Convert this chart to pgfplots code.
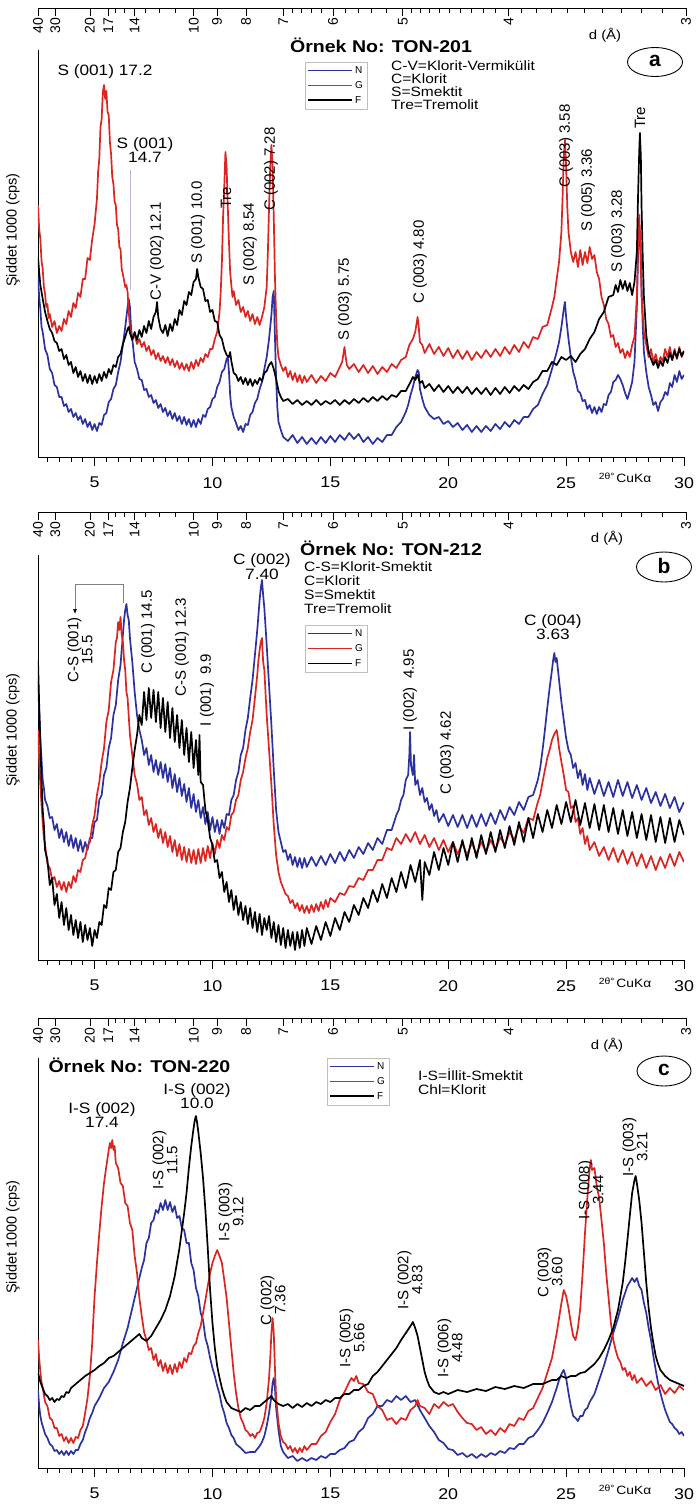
\documentclass[border=0pt]{standalone}
\usepackage{pgfplots}
\pgfplotsset{compat=1.18}
\usepackage{fontspec}
\setmainfont{Liberation Sans}
\newfontfamily\hs[FakeStretch=1.15]{Liberation Sans}
\usetikzlibrary{arrows.meta}
\definecolor{cN}{RGB}{43,50,160}
\definecolor{cG}{RGB}{218,37,33}
\definecolor{cF}{RGB}{0,0,0}
\newcommand{\fsz}[1]{\fontsize{#1}{#1}\selectfont}
\pgfplotsset{
  legend image code/.code={\draw[#1, line width=1.6pt] (0pt,0.5pt) -- (44pt,0.5pt);},
  dataax/.style={
    scale only axis, width=646pt,
    xmin=2.6, xmax=30, ymin=0,
    axis x line=bottom, axis y line=left, axis line style={-, line width=0.8pt},
    xtick={5,10,15,20,25,30}, xticklabels={5,10,15,20,25,30},
    minor xtick={3,3.5,...,29.5},
    ytick=\empty,
    tick align=outside,
    major tick length=9pt, minor tick length=5pt,
    tick style={line width=0.8pt, black},
    xticklabel style={font=\hs\fsz{15.5}, inner sep=1pt, yshift=-10pt},
    legend style={draw=gray!50, font=\fsz{10}, inner sep=2.5pt, row sep=2.5pt, anchor=north west, cells={anchor=west}},
    every axis plot/.append style={line width=1.7pt, line join=round},
  },
  topax/.style={
    scale only axis, width=648pt, height=2pt,
    xmin=2.207, xmax=29.76, ymin=0, ymax=1,
    axis x line=bottom, axis y line=none,
    axis line style={-, line width=0.8pt},
    xtick={2.207,2.943,4.415,5.194,6.308,8.835,9.82,11.05,12.64,14.75,17.72,22.21,29.76},
    xticklabels={40,30,20,17,14,10,9,8,7,6,5,4,3},
    minor xtick={5.519,5.887,6.794,7.361,8.031,13.01,13.40,13.83,14.27,15.26,15.81,16.40,17.04,18.09,18.47,18.87,19.28,19.71,20.17,20.64,21.13,21.66,22.78,23.39,24.03,24.71,25.43,26.19,27.00,27.86,28.77},
    tick align=outside, major tick length=8pt, minor tick length=5pt,
    tick style={line width=0.8pt, black},
    xticklabel style={rotate=90, anchor=east, font=\fsz{14}, inner sep=1.5pt},
  },
}
\begin{document}
\begin{tikzpicture}
\useasboundingbox (0pt,0pt) rectangle (696pt,-1504pt);

% ================= PANEL A =================
\begin{axis}[topax, at={(38pt,-8pt)}, anchor=south west]
\end{axis}
\begin{axis}[dataax, height=407pt, ymax=407, at={(38pt,-457pt)}, anchor=south west,
  legend style={at={(0.413,0.9705)}}]
\addplot[cN] coordinates {(2.6,180) (2.65,160) (2.7,148) (2.75,130) (2.8,125) (2.9,108) (3.0,102) (3.1,88) (3.2,84) (3.3,72) (3.4,70) (3.5,60) (3.6,60) (3.7,51) (3.8,53) (3.9,45) (4.0,48) (4.1,40) (4.2,44) (4.3,37) (4.4,41) (4.5,33) (4.6,38) (4.7,30) (4.8,35) (4.9,27) (5.0,33) (5.1,26) (5.2,34) (5.3,32) (5.4,42) (5.5,44) (5.6,55) (5.7,58) (5.8,68) (5.9,72) (6.0,85) (6.1,95) (6.2,112) (6.3,130) (6.4,150) (6.45,158) (6.5,150) (6.55,128) (6.6,118) (6.7,95) (6.8,88) (6.9,78) (7.0,77) (7.1,67) (7.2,68) (7.3,60) (7.4,62) (7.5,54) (7.6,57) (7.7,49) (7.8,53) (7.9,45) (8.0,49) (8.1,41) (8.2,46) (8.3,38) (8.4,44) (8.5,36) (8.6,41) (8.7,33) (8.8,40) (8.9,32) (9.0,38) (9.1,30) (9.2,37) (9.3,30) (9.4,38) (9.5,33) (9.6,42) (9.7,40) (9.8,48) (9.9,50) (10.0,58) (10.1,60) (10.2,70) (10.3,75) (10.4,85) (10.5,88) (10.6,98) (10.65,100) (10.7,85) (10.75,62) (10.8,50) (10.9,40) (11.0,34) (11.1,27) (11.2,31) (11.3,25) (11.4,33) (11.5,32) (11.6,42) (11.7,45) (11.8,54) (11.9,58) (12.0,68) (12.1,75) (12.2,88) (12.3,100) (12.4,118) (12.5,142) (12.55,160) (12.6,166) (12.65,120) (12.7,78) (12.75,50) (12.8,35) (12.9,27) (13.0,20) (13.2,16) (13.4,22) (13.6,14) (13.8,20) (14.0,13) (14.2,19) (14.4,13) (14.6,20) (14.8,14) (15.0,21) (15.2,15) (15.4,22) (15.6,17) (15.8,24) (16.0,18) (16.2,23) (16.4,15) (16.6,20) (16.8,13) (17.0,19) (17.2,15) (17.4,22) (17.6,22) (17.8,30) (18.0,35) (18.2,45) (18.3,52) (18.4,62) (18.5,70) (18.6,80) (18.7,87) (18.75,85) (18.8,68) (18.9,58) (19.0,50) (19.1,46) (19.2,42) (19.4,38) (19.6,40) (19.8,33) (20.0,36) (20.2,30) (20.4,34) (20.6,27) (20.8,32) (21.0,25) (21.2,31) (21.4,25) (21.6,31) (21.8,26) (22.0,33) (22.2,28) (22.4,35) (22.6,30) (22.8,37) (23.0,33) (23.2,40) (23.4,40) (23.6,48) (23.8,52) (24.0,63) (24.2,72) (24.4,88) (24.6,105) (24.7,115) (24.8,130) (24.9,148) (24.95,155) (25.0,140) (25.1,118) (25.2,100) (25.3,85) (25.4,77) (25.5,66) (25.6,64) (25.7,56) (25.8,57) (25.9,48) (26.0,52) (26.1,44) (26.2,50) (26.3,43) (26.4,50) (26.5,45) (26.6,53) (26.7,52) (26.8,62) (26.9,65) (27.0,75) (27.1,77) (27.2,82) (27.3,78) (27.4,72) (27.5,64) (27.6,58) (27.7,66) (27.8,75) (27.9,95) (28.0,150) (28.05,200) (28.1,232) (28.15,215) (28.2,170) (28.25,130) (28.3,105) (28.4,85) (28.5,70) (28.6,62) (28.7,52) (28.8,55) (28.9,46) (29.0,55) (29.1,58) (29.2,65) (29.3,62) (29.4,74) (29.5,70) (29.6,82) (29.7,75) (29.8,86) (29.9,78) (30.0,82)};
\addlegendentry{N}
\addplot[cG] coordinates {(2.6,252) (2.65,228) (2.7,218) (2.75,196) (2.8,188) (2.85,170) (2.9,163) (2.95,150) (3.0,153) (3.05,139) (3.1,143) (3.2,130) (3.3,136) (3.4,124) (3.5,131) (3.6,126) (3.7,138) (3.8,133) (3.9,146) (4.0,140) (4.1,154) (4.2,149) (4.3,164) (4.4,160) (4.5,178) (4.6,178) (4.7,199) (4.8,197) (4.9,218) (5.0,233) (5.05,246) (5.1,258) (5.15,285) (5.2,298) (5.25,330) (5.3,338) (5.35,365) (5.4,372) (5.45,358) (5.5,366) (5.55,345) (5.6,342) (5.65,315) (5.7,303) (5.75,280) (5.8,273) (5.85,255) (5.9,252) (5.95,232) (6.0,228) (6.05,210) (6.1,208) (6.15,188) (6.2,183) (6.3,170) (6.35,172) (6.4,165) (6.45,145) (6.5,130) (6.55,124) (6.6,119) (6.7,122) (6.8,113) (6.9,118) (7.0,110) (7.1,115) (7.2,106) (7.3,111) (7.4,102) (7.5,107) (7.6,98) (7.7,104) (7.8,96) (7.9,101) (8.0,94) (8.1,100) (8.2,92) (8.3,98) (8.4,90) (8.5,96) (8.6,88) (8.7,94) (8.8,87) (8.9,93) (9.0,86) (9.1,95) (9.2,88) (9.3,97) (9.4,91) (9.5,99) (9.6,95) (9.7,103) (9.8,100) (9.9,108) (10.0,108) (10.1,118) (10.2,125) (10.3,145) (10.35,165) (10.4,195) (10.45,240) (10.5,270) (10.55,305) (10.6,290) (10.65,250) (10.7,215) (10.75,185) (10.8,172) (10.85,160) (10.9,166) (11.0,152) (11.1,157) (11.2,145) (11.3,150) (11.4,140) (11.5,146) (11.6,136) (11.7,143) (11.8,133) (11.9,140) (12.0,132) (12.1,140) (12.2,150) (12.3,170) (12.35,205) (12.4,250) (12.45,290) (12.5,312) (12.55,290) (12.6,240) (12.65,180) (12.7,140) (12.75,112) (12.8,100) (12.9,92) (13.0,86) (13.1,90) (13.2,80) (13.3,86) (13.4,77) (13.5,84) (13.6,75) (13.7,82) (13.8,74) (13.9,81) (14.0,75) (14.2,82) (14.4,74) (14.6,81) (14.8,76) (15.0,84) (15.2,80) (15.4,90) (15.5,95) (15.6,110) (15.65,100) (15.7,92) (15.8,88) (16.0,93) (16.2,85) (16.4,92) (16.6,84) (16.8,91) (17.0,83) (17.2,90) (17.4,85) (17.6,93) (17.8,89) (18.0,97) (18.2,100) (18.35,112) (18.5,118) (18.6,125) (18.7,140) (18.75,130) (18.8,115) (18.9,112) (19.0,104) (19.2,113) (19.4,103) (19.6,110) (19.8,101) (20.0,109) (20.2,99) (20.4,107) (20.6,98) (20.8,106) (21.0,97) (21.2,105) (21.4,99) (21.6,107) (21.8,100) (22.0,108) (22.2,101) (22.4,110) (22.6,103) (22.8,112) (23.0,105) (23.2,115) (23.4,109) (23.6,120) (23.8,118) (24.0,130) (24.2,132) (24.4,150) (24.5,160) (24.6,178) (24.7,195) (24.8,225) (24.85,260) (24.9,300) (24.95,317) (25.0,290) (25.05,250) (25.1,225) (25.2,205) (25.3,195) (25.4,205) (25.5,190) (25.6,207) (25.7,192) (25.8,205) (25.9,194) (26.0,210) (26.1,198) (26.2,202) (26.3,185) (26.4,178) (26.5,160) (26.6,152) (26.7,138) (26.8,133) (26.9,120) (27.0,122) (27.1,110) (27.2,114) (27.3,104) (27.4,108) (27.5,99) (27.6,106) (27.7,100) (27.8,112) (27.9,120) (28.0,160) (28.05,210) (28.1,242) (28.15,215) (28.2,160) (28.3,125) (28.4,112) (28.5,100) (28.6,108) (28.7,95) (28.8,103) (28.9,92) (29.0,100) (29.1,96) (29.2,108) (29.3,100) (29.4,110) (29.5,97) (29.6,108) (29.7,98) (29.8,110) (29.9,100) (30.0,106)};
\addlegendentry{G}
\addplot[cF] coordinates {(2.6,200) (2.65,185) (2.7,172) (2.75,165) (2.8,158) (2.9,145) (3.0,136) (3.1,128) (3.2,124) (3.3,116) (3.4,114) (3.5,106) (3.6,108) (3.7,98) (3.8,102) (3.9,92) (4.0,95) (4.1,84) (4.2,90) (4.3,80) (4.4,86) (4.5,76) (4.6,83) (4.7,74) (4.8,82) (4.9,73) (5.0,81) (5.1,74) (5.2,83) (5.3,76) (5.4,85) (5.5,79) (5.6,88) (5.7,83) (5.8,92) (5.9,90) (6.0,100) (6.1,103) (6.2,113) (6.3,120) (6.4,128) (6.45,130) (6.5,124) (6.6,117) (6.7,125) (6.8,117) (6.9,127) (7.0,120) (7.1,131) (7.2,124) (7.3,136) (7.4,128) (7.5,140) (7.6,145) (7.65,155) (7.7,140) (7.8,128) (7.9,124) (8.0,132) (8.1,121) (8.2,133) (8.3,126) (8.4,138) (8.5,132) (8.6,147) (8.7,142) (8.8,156) (8.9,152) (9.0,165) (9.1,162) (9.2,175) (9.3,178) (9.35,188) (9.4,180) (9.5,170) (9.6,168) (9.7,156) (9.8,157) (9.9,145) (10.0,147) (10.1,136) (10.2,135) (10.3,122) (10.4,118) (10.5,108) (10.6,102) (10.7,100) (10.75,105) (10.8,96) (10.9,84) (11.0,82) (11.1,76) (11.2,80) (11.3,73) (11.4,79) (11.5,72) (11.6,78) (11.7,71) (11.8,77) (11.9,73) (12.0,79) (12.1,76) (12.2,84) (12.3,86) (12.4,92) (12.5,95) (12.6,88) (12.7,78) (12.8,66) (12.9,60) (13.0,56) (13.2,58) (13.4,53) (13.6,57) (13.8,52) (14.0,56) (14.2,52) (14.4,57) (14.6,52) (14.8,56) (15.0,53) (15.2,57) (15.4,52) (15.6,57) (15.8,53) (16.0,58) (16.2,54) (16.4,59) (16.6,55) (16.8,60) (17.0,56) (17.2,61) (17.4,57) (17.6,62) (17.8,60) (18.0,66) (18.2,66) (18.4,75) (18.5,80) (18.6,77) (18.7,82) (18.8,74) (18.9,76) (19.0,69) (19.2,73) (19.4,66) (19.6,72) (19.8,65) (20.0,71) (20.2,64) (20.4,70) (20.6,64) (20.8,70) (21.0,63) (21.2,69) (21.4,63) (21.6,69) (21.8,62) (22.0,69) (22.2,63) (22.4,70) (22.6,64) (22.8,71) (23.0,66) (23.2,72) (23.4,68) (23.6,75) (23.8,78) (24.0,86) (24.2,86) (24.4,95) (24.6,92) (24.8,100) (25.0,97) (25.2,101) (25.4,95) (25.6,103) (25.8,108) (26.0,118) (26.2,125) (26.4,138) (26.6,145) (26.8,160) (27.0,162) (27.1,172) (27.2,165) (27.3,177) (27.4,168) (27.5,176) (27.6,166) (27.7,174) (27.8,162) (27.9,175) (28.0,205) (28.05,260) (28.1,305) (28.13,324) (28.17,300) (28.2,250) (28.25,200) (28.3,160) (28.4,122) (28.5,105) (28.6,98) (28.7,92) (28.8,97) (28.9,89) (29.0,96) (29.1,91) (29.2,100) (29.3,94) (29.4,104) (29.5,97) (29.6,106) (29.7,99) (29.8,108) (29.9,101) (30.0,106)};
\addlegendentry{F}
\end{axis}

% ================= PANEL B =================
\begin{axis}[topax, at={(38pt,-512pt)}, anchor=south west]
\end{axis}
\begin{axis}[dataax, height=405pt, ymax=405, at={(38pt,-960pt)}, anchor=south west,
  legend style={at={(0.413,0.827)}}]
\addplot[cN] coordinates {(2.6,280) (2.65,250) (2.7,222) (2.75,200) (2.8,180) (2.85,172) (2.9,160) (3.0,154) (3.1,142) (3.2,143) (3.3,130) (3.4,136) (3.5,122) (3.6,131) (3.7,118) (3.8,128) (3.9,114) (4.0,125) (4.1,112) (4.2,122) (4.3,109) (4.4,120) (4.5,108) (4.6,118) (4.7,110) (4.8,122) (4.9,122) (5.0,138) (5.1,140) (5.2,160) (5.3,165) (5.4,185) (5.5,192) (5.6,212) (5.7,222) (5.8,245) (5.9,255) (6.0,280) (6.1,295) (6.2,325) (6.25,340) (6.3,350) (6.35,356) (6.4,345) (6.45,340) (6.5,322) (6.6,298) (6.7,268) (6.8,245) (6.9,230) (7.0,220) (7.1,205) (7.2,212) (7.3,195) (7.4,205) (7.5,188) (7.6,200) (7.7,185) (7.8,198) (7.9,182) (8.0,196) (8.1,178) (8.2,192) (8.3,172) (8.4,186) (8.5,168) (8.6,182) (8.7,164) (8.8,176) (8.9,158) (9.0,172) (9.1,152) (9.2,166) (9.3,148) (9.4,160) (9.5,142) (9.6,153) (9.7,136) (9.8,148) (9.9,130) (10.0,143) (10.1,128) (10.2,140) (10.3,126) (10.4,140) (10.5,132) (10.6,146) (10.7,145) (10.8,160) (10.9,165) (11.0,180) (11.1,188) (11.2,205) (11.3,212) (11.4,230) (11.5,242) (11.6,262) (11.7,280) (11.8,305) (11.9,330) (11.95,345) (12.0,360) (12.05,372) (12.1,380) (12.15,365) (12.2,352) (12.3,315) (12.4,275) (12.5,235) (12.6,190) (12.7,150) (12.8,128) (12.9,118) (13.0,108) (13.1,110) (13.2,100) (13.3,106) (13.4,95) (13.5,103) (13.6,93) (13.7,102) (13.8,92) (13.9,102) (14.0,93) (14.2,103) (14.4,94) (14.6,104) (14.8,95) (15.0,106) (15.2,97) (15.4,108) (15.6,99) (15.8,110) (16.0,102) (16.2,113) (16.4,106) (16.6,117) (16.8,110) (17.0,122) (17.2,116) (17.4,130) (17.6,130) (17.8,145) (17.9,150) (18.0,160) (18.1,165) (18.2,180) (18.3,185) (18.35,205) (18.38,228) (18.42,195) (18.5,185) (18.55,205) (18.6,175) (18.7,180) (18.8,165) (18.9,172) (19.0,158) (19.1,162) (19.2,150) (19.3,156) (19.4,144) (19.5,150) (19.6,138) (19.8,146) (20.0,134) (20.2,145) (20.4,133) (20.6,145) (20.8,132) (21.0,145) (21.2,133) (21.4,146) (21.6,134) (21.8,147) (22.0,136) (22.2,150) (22.4,140) (22.6,153) (22.8,145) (23.0,158) (23.2,150) (23.4,163) (23.6,165) (23.8,180) (23.9,192) (24.0,210) (24.1,230) (24.2,252) (24.3,272) (24.4,290) (24.45,300) (24.5,307) (24.55,298) (24.6,302) (24.7,280) (24.8,258) (24.9,240) (25.0,222) (25.1,210) (25.2,205) (25.3,192) (25.4,197) (25.5,182) (25.6,190) (25.7,175) (25.8,186) (25.9,170) (26.0,182) (26.2,166) (26.4,180) (26.6,164) (26.8,178) (27.0,163) (27.2,180) (27.4,164) (27.6,178) (27.8,162) (28.0,175) (28.2,160) (28.4,172) (28.6,157) (28.8,168) (29.0,154) (29.2,166) (29.4,152) (29.6,163) (29.8,148) (30.0,158)};
\addlegendentry{N}
\addplot[cG] coordinates {(2.6,230) (2.65,200) (2.7,175) (2.75,155) (2.8,138) (2.85,122) (2.9,115) (3.0,96) (3.1,92) (3.2,80) (3.3,83) (3.4,73) (3.5,79) (3.6,70) (3.7,78) (3.8,68) (3.9,78) (4.0,72) (4.1,84) (4.2,78) (4.3,90) (4.4,88) (4.5,100) (4.6,102) (4.7,114) (4.8,118) (4.9,135) (5.0,145) (5.1,165) (5.2,178) (5.3,198) (5.4,212) (5.5,238) (5.6,250) (5.7,278) (5.8,290) (5.9,318) (5.95,322) (6.0,338) (6.05,330) (6.1,343) (6.15,325) (6.2,318) (6.25,300) (6.3,290) (6.35,268) (6.4,262) (6.5,225) (6.6,205) (6.7,185) (6.8,176) (6.9,160) (7.0,163) (7.1,145) (7.2,150) (7.3,135) (7.4,142) (7.5,128) (7.6,136) (7.7,122) (7.8,131) (7.9,117) (8.0,128) (8.1,113) (8.2,124) (8.3,108) (8.4,120) (8.5,104) (8.6,116) (8.7,100) (8.8,113) (8.9,98) (9.0,111) (9.1,97) (9.2,110) (9.3,96) (9.4,111) (9.5,97) (9.6,112) (9.7,99) (9.8,114) (9.9,102) (10.0,117) (10.1,106) (10.2,120) (10.3,112) (10.4,125) (10.5,120) (10.6,133) (10.7,130) (10.8,145) (10.9,148) (11.0,160) (11.1,165) (11.2,180) (11.3,188) (11.4,202) (11.5,212) (11.6,228) (11.7,240) (11.8,262) (11.9,285) (11.95,300) (12.0,310) (12.05,318) (12.1,322) (12.15,298) (12.2,290) (12.3,245) (12.4,210) (12.5,175) (12.6,135) (12.7,105) (12.8,88) (12.9,78) (13.0,72) (13.1,66) (13.2,64) (13.3,57) (13.4,60) (13.5,52) (13.6,57) (13.7,49) (13.8,55) (13.9,47) (14.0,54) (14.1,47) (14.2,55) (14.3,48) (14.4,56) (14.5,49) (14.6,58) (14.7,51) (14.8,60) (14.9,53) (15.0,62) (15.2,58) (15.4,67) (15.6,65) (15.8,74) (16.0,73) (16.2,82) (16.4,80) (16.6,90) (16.8,90) (17.0,100) (17.2,100) (17.4,112) (17.6,110) (17.8,122) (18.0,116) (18.2,126) (18.4,118) (18.6,128) (18.8,116) (19.0,125) (19.2,113) (19.4,122) (19.6,110) (19.8,120) (20.0,108) (20.2,118) (20.4,106) (20.6,117) (20.8,105) (21.0,117) (21.2,106) (21.4,118) (21.6,108) (21.8,120) (22.0,110) (22.2,123) (22.4,115) (22.6,128) (22.8,120) (23.0,134) (23.2,127) (23.4,142) (23.6,140) (23.8,158) (23.9,165) (24.0,178) (24.1,190) (24.2,202) (24.3,210) (24.4,220) (24.5,226) (24.6,230) (24.65,222) (24.7,212) (24.8,198) (24.9,185) (25.0,170) (25.1,168) (25.2,152) (25.3,154) (25.4,138) (25.5,142) (25.6,126) (25.7,132) (25.8,116) (25.9,124) (26.0,110) (26.2,118) (26.4,104) (26.6,113) (26.8,100) (27.0,112) (27.2,98) (27.4,110) (27.6,96) (27.8,108) (28.0,94) (28.2,106) (28.4,92) (28.6,104) (28.8,90) (29.0,103) (29.2,92) (29.4,106) (29.6,94) (29.8,108) (30.0,98)};
\addlegendentry{G}
\addplot[cF] coordinates {(2.6,300) (2.65,255) (2.7,215) (2.75,180) (2.8,150) (2.85,135) (2.9,110) (3.0,100) (3.1,75) (3.2,82) (3.3,55) (3.4,66) (3.5,42) (3.6,58) (3.7,35) (3.8,52) (3.9,30) (4.0,45) (4.1,25) (4.2,40) (4.3,22) (4.4,38) (4.5,18) (4.6,35) (4.7,20) (4.8,32) (4.9,14) (5.0,30) (5.1,22) (5.2,38) (5.3,35) (5.4,55) (5.5,52) (5.6,72) (5.7,70) (5.8,88) (5.9,90) (6.0,108) (6.1,112) (6.2,128) (6.3,138) (6.4,158) (6.5,172) (6.6,192) (6.7,210) (6.8,225) (6.9,245) (7.0,235) (7.1,268) (7.2,240) (7.3,272) (7.4,242) (7.5,270) (7.6,238) (7.7,268) (7.8,232) (7.9,262) (8.0,228) (8.1,258) (8.2,222) (8.3,252) (8.4,218) (8.5,245) (8.6,212) (8.7,240) (8.8,205) (8.9,232) (9.0,198) (9.1,228) (9.2,192) (9.3,220) (9.4,185) (9.45,225) (9.5,178) (9.6,175) (9.7,150) (9.8,140) (9.9,122) (10.0,115) (10.1,98) (10.2,100) (10.3,82) (10.4,88) (10.5,68) (10.6,78) (10.7,58) (10.8,70) (10.9,50) (11.0,64) (11.1,45) (11.2,58) (11.3,40) (11.4,54) (11.5,36) (11.6,52) (11.7,32) (11.8,48) (11.9,28) (12.0,46) (12.1,25) (12.2,42) (12.3,30) (12.4,44) (12.5,22) (12.6,38) (12.7,18) (12.8,35) (12.9,15) (13.0,32) (13.1,12) (13.2,30) (13.3,14) (13.4,28) (13.5,10) (13.6,28) (13.7,12) (13.8,30) (13.9,14) (14.0,32) (14.2,16) (14.4,34) (14.6,20) (14.8,38) (15.0,24) (15.2,42) (15.4,30) (15.6,48) (15.8,38) (16.0,55) (16.2,45) (16.4,62) (16.6,52) (16.8,70) (17.0,58) (17.2,76) (17.4,62) (17.6,82) (17.8,68) (18.0,88) (18.2,72) (18.4,95) (18.6,78) (18.8,100) (18.9,60) (19.0,98) (19.2,85) (19.4,108) (19.6,90) (19.8,112) (20.0,95) (20.2,118) (20.4,98) (20.6,120) (20.8,100) (21.0,122) (21.2,102) (21.4,125) (21.6,106) (21.8,128) (22.0,108) (22.2,130) (22.4,112) (22.6,134) (22.8,115) (23.0,138) (23.2,118) (23.4,142) (23.6,122) (23.8,146) (24.0,128) (24.2,150) (24.4,132) (24.6,155) (24.8,136) (25.0,158) (25.2,138) (25.4,160) (25.6,135) (25.8,157) (26.0,132) (26.2,156) (26.4,130) (26.6,155) (26.8,128) (27.0,152) (27.2,126) (27.4,150) (27.6,124) (27.8,148) (28.0,122) (28.2,146) (28.4,120) (28.6,145) (28.8,118) (29.0,143) (29.2,117) (29.4,142) (29.6,118) (29.8,140) (30.0,125)};
\addlegendentry{F}
\end{axis}

% ================= PANEL C =================
\begin{axis}[topax, at={(38pt,-1018pt)}, anchor=south west]
\end{axis}
\begin{axis}[dataax, height=410pt, ymax=410, at={(38pt,-1468pt)}, anchor=south west,
  legend style={at={(0.447,1.0)}}]
\addplot[cN] coordinates {(2.6,78) (2.65,62) (2.7,52) (2.75,46) (2.8,42) (2.9,34) (3.0,30) (3.1,24) (3.2,22) (3.3,17) (3.4,18) (3.5,14) (3.6,17) (3.7,13) (3.8,17) (3.9,13) (4.0,17) (4.1,14) (4.2,18) (4.3,18) (4.4,24) (4.5,28) (4.6,36) (4.7,42) (4.8,50) (4.9,55) (5.0,62) (5.2,70) (5.4,80) (5.6,86) (5.8,96) (6.0,108) (6.2,125) (6.4,140) (6.6,160) (6.8,180) (7.0,200) (7.1,208) (7.2,225) (7.3,230) (7.4,245) (7.5,248) (7.6,258) (7.7,255) (7.8,265) (7.9,258) (8.0,268) (8.1,258) (8.2,266) (8.3,256) (8.4,262) (8.5,250) (8.6,252) (8.7,240) (8.8,238) (8.9,225) (9.0,225) (9.1,205) (9.2,198) (9.3,180) (9.4,172) (9.5,155) (9.6,148) (9.7,130) (9.8,122) (9.9,110) (10.0,100) (10.1,92) (10.2,82) (10.3,74) (10.4,62) (10.5,55) (10.6,45) (10.7,40) (10.8,33) (10.9,30) (11.0,24) (11.2,20) (11.4,15) (11.6,16) (11.8,16) (12.0,22) (12.1,26) (12.2,32) (12.3,42) (12.4,55) (12.5,72) (12.55,85) (12.6,90) (12.65,80) (12.7,60) (12.8,38) (12.9,22) (13.0,16) (13.2,10) (13.4,12) (13.6,7) (13.8,10) (14.0,7) (14.2,10) (14.4,8) (14.6,12) (14.8,10) (15.0,14) (15.2,14) (15.4,18) (15.6,20) (15.8,26) (16.0,28) (16.2,36) (16.4,40) (16.6,50) (16.8,54) (17.0,62) (17.2,62) (17.4,68) (17.6,66) (17.8,72) (18.0,68) (18.2,72) (18.4,66) (18.6,68) (18.8,58) (19.0,50) (19.2,42) (19.4,36) (19.6,28) (19.8,25) (20.0,19) (20.2,18) (20.4,13) (20.6,15) (20.8,11) (21.0,14) (21.2,10) (21.4,14) (21.6,11) (21.8,15) (22.0,13) (22.2,17) (22.4,15) (22.6,20) (22.8,19) (23.0,24) (23.2,24) (23.4,30) (23.6,32) (23.8,38) (24.0,45) (24.2,55) (24.4,66) (24.6,80) (24.7,88) (24.8,94) (24.9,98) (25.0,90) (25.1,75) (25.2,62) (25.3,52) (25.4,50) (25.5,47) (25.6,52) (25.7,52) (25.8,58) (25.9,60) (26.0,66) (26.2,74) (26.4,88) (26.6,102) (26.8,118) (27.0,135) (27.2,150) (27.4,168) (27.5,175) (27.6,182) (27.7,186) (27.8,190) (27.9,186) (28.0,190) (28.1,182) (28.2,178) (28.3,165) (28.4,155) (28.5,140) (28.6,128) (28.7,112) (28.8,98) (28.9,85) (29.0,75) (29.1,66) (29.2,58) (29.3,52) (29.4,46) (29.5,44) (29.6,40) (29.7,38) (29.8,34) (29.9,36) (30.0,32)};
\addlegendentry{N}
\addplot[cG] coordinates {(2.6,128) (2.65,110) (2.7,96) (2.75,86) (2.8,80) (2.9,66) (3.0,62) (3.1,50) (3.2,48) (3.3,40) (3.4,40) (3.5,32) (3.6,34) (3.7,27) (3.8,31) (3.9,25) (4.0,30) (4.1,25) (4.2,31) (4.3,30) (4.4,38) (4.5,42) (4.6,55) (4.7,70) (4.8,92) (4.9,125) (4.95,150) (5.0,172) (5.1,205) (5.2,235) (5.3,262) (5.4,285) (5.5,302) (5.6,318) (5.65,325) (5.7,320) (5.75,328) (5.8,318) (5.85,322) (5.9,305) (6.0,300) (6.1,285) (6.2,282) (6.3,265) (6.4,262) (6.5,245) (6.6,238) (6.7,212) (6.8,195) (6.9,170) (7.0,152) (7.1,136) (7.2,128) (7.3,118) (7.4,120) (7.5,108) (7.6,114) (7.7,102) (7.8,108) (7.9,97) (8.0,105) (8.1,95) (8.2,103) (8.3,94) (8.4,104) (8.5,96) (8.6,106) (8.7,100) (8.8,110) (8.9,106) (9.0,115) (9.1,114) (9.2,122) (9.3,125) (9.4,135) (9.5,142) (9.6,155) (9.7,168) (9.8,182) (9.9,195) (10.0,205) (10.1,212) (10.2,218) (10.3,212) (10.4,205) (10.5,188) (10.6,170) (10.7,145) (10.8,120) (10.9,95) (11.0,75) (11.1,60) (11.2,50) (11.3,45) (11.4,38) (11.5,36) (11.6,32) (11.7,34) (11.8,30) (11.9,35) (12.0,36) (12.1,42) (12.2,50) (12.3,65) (12.4,90) (12.45,110) (12.5,135) (12.55,150) (12.6,135) (12.65,100) (12.7,70) (12.8,45) (12.9,32) (13.0,26) (13.1,24) (13.2,19) (13.3,22) (13.4,16) (13.5,20) (13.6,15) (13.7,20) (13.8,16) (13.9,22) (14.0,18) (14.2,24) (14.4,24) (14.6,32) (14.8,36) (15.0,46) (15.2,54) (15.4,68) (15.6,76) (15.8,86) (15.9,90) (16.0,87) (16.1,92) (16.2,85) (16.4,84) (16.6,76) (16.8,74) (17.0,62) (17.2,58) (17.4,48) (17.6,50) (17.8,44) (18.0,50) (18.2,48) (18.4,58) (18.6,62) (18.7,68) (18.8,62) (19.0,60) (19.2,54) (19.4,64) (19.6,60) (19.8,66) (20.0,62) (20.2,64) (20.4,56) (20.6,50) (20.8,45) (21.0,44) (21.2,38) (21.4,41) (21.6,34) (21.8,38) (22.0,33) (22.2,40) (22.4,36) (22.6,44) (22.8,42) (23.0,50) (23.2,48) (23.4,57) (23.6,60) (23.8,70) (24.0,80) (24.2,95) (24.4,110) (24.6,135) (24.7,150) (24.8,165) (24.9,178) (25.0,172) (25.1,160) (25.2,145) (25.3,132) (25.4,128) (25.5,140) (25.6,160) (25.7,195) (25.8,235) (25.9,270) (26.0,300) (26.05,308) (26.1,298) (26.2,300) (26.3,282) (26.4,270) (26.5,248) (26.6,225) (26.7,195) (26.8,170) (26.9,145) (27.0,128) (27.1,118) (27.2,110) (27.3,106) (27.4,98) (27.5,100) (27.6,92) (27.7,96) (27.8,88) (27.9,93) (28.0,85) (28.2,90) (28.4,82) (28.6,87) (28.8,78) (29.0,83) (29.2,74) (29.4,80) (29.6,75) (29.8,82) (30.0,78)};
\addlegendentry{G}
\addplot[cF] coordinates {(2.6,95) (2.7,86) (2.8,80) (2.9,74) (3.0,72) (3.1,68) (3.2,70) (3.3,66) (3.4,69) (3.5,68) (3.6,72) (3.7,71) (3.8,76) (3.9,75) (4.0,80) (4.2,84) (4.4,88) (4.6,92) (4.8,95) (5.0,98) (5.2,102) (5.4,105) (5.6,110) (5.8,112) (6.0,116) (6.2,120) (6.4,124) (6.6,128) (6.8,132) (6.9,134) (7.0,130) (7.2,127) (7.4,132) (7.6,140) (7.8,148) (8.0,158) (8.2,172) (8.4,192) (8.6,220) (8.8,255) (8.9,275) (9.0,300) (9.1,322) (9.2,340) (9.25,348) (9.3,352) (9.35,345) (9.4,336) (9.5,315) (9.6,290) (9.7,258) (9.8,220) (9.9,178) (10.0,145) (10.1,120) (10.2,102) (10.3,90) (10.4,80) (10.5,72) (10.6,66) (10.8,60) (11.0,58) (11.2,56) (11.4,60) (11.6,58) (11.8,62) (12.0,62) (12.2,66) (12.4,70) (12.5,72) (12.6,68) (12.8,64) (13.0,62) (13.2,64) (13.4,60) (13.6,64) (13.8,61) (14.0,65) (14.2,62) (14.4,66) (14.6,64) (14.8,68) (15.0,66) (15.2,70) (15.4,70) (15.6,74) (15.8,74) (16.0,78) (16.2,78) (16.4,82) (16.6,84) (16.8,92) (17.0,96) (17.2,102) (17.4,108) (17.6,114) (17.8,120) (18.0,128) (18.2,135) (18.4,142) (18.5,146) (18.6,140) (18.7,132) (18.8,120) (18.9,108) (19.0,96) (19.1,88) (19.2,82) (19.4,76) (19.6,74) (19.8,76) (20.0,74) (20.4,78) (20.8,76) (21.2,79) (21.6,77) (22.0,81) (22.4,79) (22.8,82) (23.2,80) (23.6,84) (24.0,84) (24.4,88) (24.6,88) (24.8,92) (25.0,90) (25.2,92) (25.4,92) (25.6,95) (25.8,96) (26.0,100) (26.2,104) (26.4,110) (26.6,118) (26.8,128) (27.0,140) (27.2,158) (27.4,185) (27.5,205) (27.6,228) (27.7,252) (27.8,275) (27.9,288) (27.95,292) (28.0,285) (28.1,268) (28.2,245) (28.3,215) (28.4,185) (28.5,160) (28.6,140) (28.7,125) (28.8,112) (28.9,104) (29.0,98) (29.2,92) (29.4,88) (29.6,86) (29.8,84) (30.0,82)};
\addlegendentry{F}
\end{axis}

% ================= ANNOTATIONS (pixel coords) =================
\begin{scope}[x=1pt,y=-1pt]
% ---- panel a
\node[font=\hs\bfseries\fsz{17}] at (381,45) {Örnek No: TON-201};
\node[font=\hs\fsz{13}] at (605,35) {d (Å)};
\draw[line width=0.9pt] (655,62) ellipse [x radius=27.5pt, y radius=14.5pt];
\node[font=\bfseries\fsz{21}] at (655,61) {a};
\node[anchor=north west, align=left, inner sep=0pt, font=\hs\fontsize{13.5}{13}\selectfont] at (391,61) {C-V=Klorit-Vermikülit\\C=Klorit\\S=Smektit\\Tre=Tremolit};
\node[rotate=90, font=\fsz{14.5}] at (13,230) {Şiddet 1000 (cps)};
\node[font=\hs\fsz{15}] at (105,72) {S (001) 17.2};
\node[align=center, font=\hs\fontsize{15}{14}\selectfont] at (145,150) {S (001)\\14.7};
\draw[color=cN!35, line width=0.8pt] (130,170) -- (130,290);
\node[rotate=90, font=\fsz{15}] at (157,251) {C-V (002) 12.1};
\node[rotate=90, font=\fsz{15}] at (198,222) {S (001) 10.0};
\node[rotate=90, font=\fsz{15}] at (226,198) {Tre};
\node[rotate=90, font=\fsz{15}] at (250,244) {S (002) 8.54};
\node[rotate=90, font=\fsz{15}] at (271,169) {C (002) 7.28};
\node[rotate=90, font=\fsz{15}] at (345,299) {S (003) 5.75};
\node[rotate=90, font=\fsz{15}] at (420,262) {C (003) 4.80};
\node[rotate=90, font=\fsz{15}] at (566,146) {C (003) 3.58};
\node[rotate=90, font=\fsz{15}] at (588,190) {S (005) 3.36};
\node[rotate=90, font=\fsz{15}] at (618,231) {S (003) 3.28};
\node[rotate=90, font=\fsz{15}] at (640,118) {Tre};
\node[font=\hs\fsz{12}] at (625,478) {\raisebox{3pt}{\fsz{9}2θ°}\,CuKα};
% ---- panel b
\node[font=\hs\bfseries\fsz{17}] at (391,548) {Örnek No: TON-212};
\node[font=\hs\fsz{13}] at (607,538) {d (Å)};
\draw[line width=0.9pt] (664,567) ellipse [x radius=27.5pt, y radius=15pt];
\node[font=\bfseries\fsz{21}] at (664,566) {b};
\node[anchor=north west, align=left, inner sep=0pt, font=\hs\fontsize{13.5}{13.8}\selectfont] at (304,562) {C-S=Klorit-Smektit\\C=Klorit\\S=Smektit\\Tre=Tremolit};
\node[rotate=90, font=\fsz{14.5}] at (13,730) {Şiddet 1000 (cps)};
\draw[gray, line width=0.7pt, -{Latex[black,length=5pt,width=4pt]}] (123,603) -- (123,584) -- (75,584) -- (75,614);
\node[rotate=90, align=center, font=\fontsize{15}{14}\selectfont] at (80,650) {C-S (001)\\15.5};
\node[rotate=90, font=\fsz{15}] at (148,632) {C (001) 14.5};
\node[rotate=90, font=\fsz{15}] at (182,647) {C-S (001) 12.3};
\node[rotate=90, font=\fsz{15}] at (207,690) {I (001)\ \ 9.9};
\node[align=center, font=\hs\fontsize{15}{15}\selectfont] at (262,567) {C (002)\\7.40};
\node[rotate=90, font=\fsz{15}] at (410,690) {I (002)\ \ 4.95};
\node[rotate=90, font=\fsz{15}] at (447,753) {C (003) 4.62};
\node[align=center, font=\hs\fontsize{15}{14}\selectfont] at (553,627) {C (004)\\3.63};
\node[font=\hs\fsz{12}] at (625,983) {\raisebox{3pt}{\fsz{9}2θ°}\,CuKα};
% ---- panel c
\node[anchor=west, font=\hs\bfseries\fsz{17}] at (45,1065) {Örnek No: TON-220};
\node[font=\hs\fsz{13}] at (607,1045) {d (Å)};
\draw[line width=0.9pt] (664,1071) ellipse [x radius=27pt, y radius=15pt];
\node[font=\bfseries\fsz{21}] at (664,1070) {c};
\node[anchor=north west, align=left, inner sep=0pt, font=\hs\fontsize{13.5}{14}\selectfont] at (418,1069) {I-S=İllit-Smektit\\Chl=Klorit};
\node[rotate=90, font=\fsz{14.5}] at (13,1237) {Şiddet 1000 (cps)};
\node[align=center, font=\hs\fontsize{15}{14}\selectfont] at (102,1115) {I-S (002)\\17.4};
\node[align=center, font=\hs\fontsize{15}{14}\selectfont] at (197,1096) {I-S (002)\\10.0};
\node[rotate=90, align=center, font=\fontsize{15}{14}\selectfont] at (165,1160) {I-S (002)\\11.5};
\node[rotate=90, align=center, font=\fontsize{15}{14}\selectfont] at (231,1212) {I-S (003)\\9.12};
\node[rotate=90, align=center, font=\fontsize{15}{14}\selectfont] at (273,1300) {C (002)\\7.36};
\node[rotate=90, align=center, font=\fontsize{15}{14}\selectfont] at (352,1338) {I-S (005)\\5.66};
\node[rotate=90, align=center, font=\fontsize{15}{14}\selectfont] at (410,1280) {I-S (002)\\4.83};
\node[rotate=90, align=center, font=\fontsize{15}{14}\selectfont] at (450,1348) {I-S (006)\\4.48};
\node[rotate=90, align=center, font=\fontsize{15}{14}\selectfont] at (550,1272) {C (003)\\3.60};
\node[rotate=90, align=center, font=\fontsize{15}{14}\selectfont] at (591,1190) {I-S (008)\\3.44};
\node[rotate=90, align=center, font=\fontsize{15}{14}\selectfont] at (635,1147) {I-S (003)\\3.21};
\node[font=\hs\fsz{12}] at (625,1490) {\raisebox{3pt}{\fsz{9}2θ°}\,CuKα};
\end{scope}
\end{tikzpicture}
\end{document}
